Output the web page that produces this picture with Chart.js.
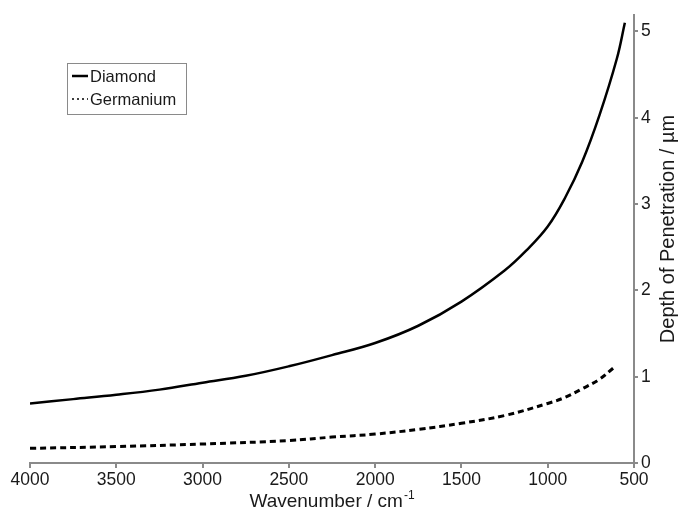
<!DOCTYPE html>
<html>
<head>
<meta charset="utf-8">
<script src="https://cdn.jsdelivr.net/npm/chart.js@4/dist/chart.umd.min.js"></script>
<style>
  html, body { margin: 0; padding: 0; background: #fff; }
  #wrap { width: 678px; height: 512px; position: relative; }
</style>
</head>
<body>
<div id="wrap"><canvas id="chart"></canvas></div>
<script>
// Penetration depth of the evanescent wave for two ATR crystals
const diamondWavenumber = [4000, 3750, 3500, 3250, 3000, 2750, 2500, 2250, 2000, 1750, 1500, 1250, 1125, 1000, 900, 800, 700, 600, 553];
const diamondDepth      = [0.69, 0.74, 0.79, 0.85, 0.93, 1.01, 1.12, 1.25, 1.39, 1.59, 1.87, 2.23, 2.46, 2.74, 3.07, 3.49, 4.03, 4.68, 5.10];

const germaniumWavenumber = [4000, 3500, 3000, 2500, 2250, 2000, 1750, 1500, 1250, 1000, 900, 800, 700, 620];
const germaniumDepth      = [0.17, 0.19, 0.22, 0.26, 0.30, 0.335, 0.39, 0.46, 0.55, 0.69, 0.76, 0.86, 0.97, 1.10];

const xTickValues = [4000, 3500, 3000, 2500, 2000, 1500, 1000, 500];
const yTickValues = [0, 1, 2, 3, 4, 5];

const seriesNames = ['Diamond', 'Germanium'];
const xTitle = 'Wavenumber / cm';
const xTitleSup = '-1';
const yTitle = 'Depth of Penetration / \u00b5m';

const FONT = '"Liberation Sans", Arial, sans-serif';
const AXIS = '#8a8a8a';
const INK = '#1a1a1a';

const toPoints = (xs, ys) => xs.map((x, i) => ({ x, y: ys[i] }));

// Axis titles (with superscript unit) and the boxed legend
const decorations = {
  id: 'decorations',
  afterDraw(chart) {
    const ctx = chart.ctx;
    const area = chart.chartArea;
    ctx.save();
    ctx.fillStyle = INK;

    // x title with superscript
    ctx.font = '19px ' + FONT;
    const mainW = ctx.measureText(xTitle).width;
    ctx.font = '12px ' + FONT;
    const supW = ctx.measureText(xTitleSup).width;
    const cx = (area.left + area.right) / 2;
    const startX = cx - (mainW + supW + 1) / 2;
    ctx.textBaseline = 'alphabetic';
    ctx.textAlign = 'left';
    ctx.font = '19px ' + FONT;
    ctx.fillText(xTitle, startX, 507);
    ctx.font = '12px ' + FONT;
    ctx.fillText(xTitleSup, startX + mainW + 1, 499);

    // y title on the right
    ctx.font = '20px ' + FONT;
    ctx.translate(668, 229);
    ctx.rotate(-Math.PI / 2);
    ctx.textAlign = 'center';
    ctx.textBaseline = 'middle';
    ctx.fillText(yTitle, 0, 0);
    ctx.restore();

    // legend
    ctx.save();
    const bx = 67, by = 63, bw = 119, bh = 51;
    ctx.strokeStyle = AXIS;
    ctx.lineWidth = 1;
    ctx.strokeRect(bx + 0.5, by + 0.5, bw, bh);
    ctx.font = '16.5px ' + FONT;
    ctx.textAlign = 'left';
    ctx.textBaseline = 'middle';
    chart.data.datasets.forEach((ds, i) => {
      const ly = by + 13 + i * 23;
      ctx.strokeStyle = ds.borderColor;
      ctx.lineWidth = i === 0 ? 2.5 : 1.5;
      ctx.setLineDash(i === 0 ? [] : [2, 3]);
      ctx.beginPath();
      ctx.moveTo(72, ly);
      ctx.lineTo(88, ly);
      ctx.stroke();
      ctx.setLineDash([]);
      ctx.fillStyle = INK;
      ctx.fillText(ds.label, 90, ly + 1);
    });
    ctx.restore();
  }
};

new Chart(document.getElementById('chart'), {
  type: 'line',
  data: {
    datasets: [
      {
        label: seriesNames[0],
        data: toPoints(diamondWavenumber, diamondDepth),
        borderColor: '#000',
        borderWidth: 2.5,
        pointRadius: 0,
        tension: 0.4,
        fill: false
      },
      {
        label: seriesNames[1],
        data: toPoints(germaniumWavenumber, germaniumDepth),
        borderColor: '#000',
        borderWidth: 3,
        borderDash: [6, 4],
        pointRadius: 0,
        tension: 0.4,
        fill: false
      }
    ]
  },
  options: {
    responsive: true,
    maintainAspectRatio: false,
    animation: false,
    layout: { padding: { left: 30, top: 15, right: 0, bottom: 0 } },
    plugins: { legend: { display: false }, tooltip: { enabled: false } },
    scales: {
      x: {
        type: 'linear',
        position: 'bottom',
        reverse: true,
        min: 500,
        max: 4000,
        afterBuildTicks: s => { s.ticks = xTickValues.map(v => ({ value: v })); },
        afterFit: s => { s.height = 49; },
        grid: { drawOnChartArea: false, drawTicks: true, tickLength: 5, color: AXIS, lineWidth: 2 },
        border: { display: true, color: AXIS, width: 2 },
        ticks: { color: INK, font: { family: FONT, size: 17.5 }, padding: 2, maxRotation: 0, autoSkip: false,
                 callback: v => String(v) }
      },
      y: {
        type: 'linear',
        position: 'right',
        min: 0,
        max: 5.19,
        afterBuildTicks: s => { s.ticks = yTickValues.map(v => ({ value: v })); },
        afterFit: s => { s.width = 44; },
        grid: { drawOnChartArea: false, drawTicks: true, tickLength: 4, color: AXIS, lineWidth: 2 },
        border: { display: true, color: AXIS, width: 2 },
        ticks: { color: INK, font: { family: FONT, size: 17.5 }, padding: 3, callback: v => String(v) }
      }
    }
  },
  plugins: [decorations]
});
</script>
</body>
</html>
